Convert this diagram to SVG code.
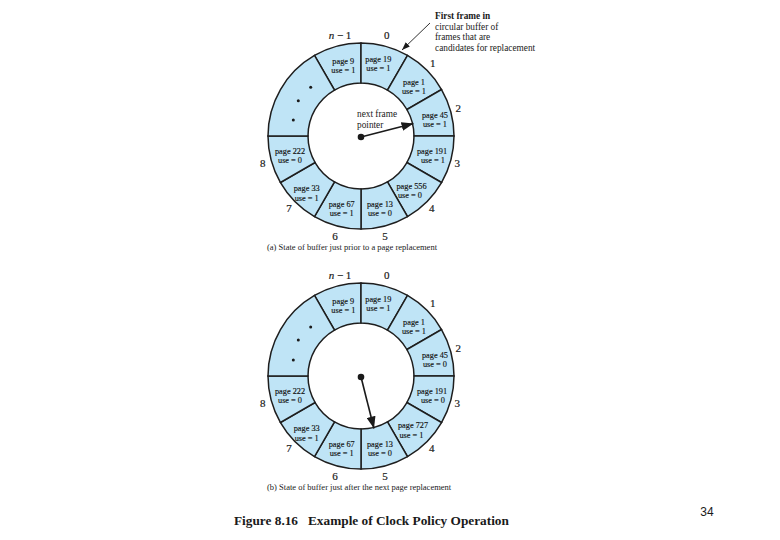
<svg xmlns="http://www.w3.org/2000/svg" xmlns:xlink="http://www.w3.org/1999/xlink" width="780" height="540" viewBox="0 0 780 540">
<style>
.seg{fill:#bfe4f6;stroke:#1e1e1e;stroke-width:1.5;stroke-linejoin:miter}
.pg{font-family:"Liberation Serif","Times New Roman",serif;font-size:8.3px;fill:#111;text-anchor:middle;stroke:#111;stroke-width:0.15}
.num{font-family:"Liberation Serif","Times New Roman",serif;font-size:11px;fill:#1a1a1a;text-anchor:middle;stroke:#1a1a1a;stroke-width:0.2}
.note{font-family:"Liberation Serif","Times New Roman",serif;font-size:9.3px;fill:#1a1a1a}
.cap{font-family:"Liberation Serif","Times New Roman",serif;font-size:8.5px;fill:#1a1a1a}
.title{font-family:"Liberation Serif","Times New Roman",serif;font-size:13.3px;font-weight:bold;fill:#1a1a1a}
.ptr{stroke:#1a1a1a;stroke-width:1.6;fill:none}
.thin{stroke:#1a1a1a;stroke-width:0.9;fill:none}
.dot{fill:#1a1a1a}
</style>
<defs>
<path id="s0" d="M46.5,-80.54 A93,93 0 0 0 0,-93 L0,-53 A53,53 0 0 1 26.5,-45.9 Z"/>
<path id="s1" d="M80.54,-46.5 A93,93 0 0 0 46.5,-80.54 L26.5,-45.9 A53,53 0 0 1 45.9,-26.5 Z"/>
<path id="s2" d="M93,0 A93,93 0 0 0 80.54,-46.5 L45.9,-26.5 A53,53 0 0 1 53,0 Z"/>
<path id="s3" d="M80.54,46.5 A93,93 0 0 0 93,0 L53,0 A53,53 0 0 1 45.9,26.5 Z"/>
<path id="s4" d="M46.5,80.54 A93,93 0 0 0 80.54,46.5 L45.9,26.5 A53,53 0 0 1 26.5,45.9 Z"/>
<path id="s5" d="M0,93 A93,93 0 0 0 46.5,80.54 L26.5,45.9 A53,53 0 0 1 0,53 Z"/>
<path id="s6" d="M-46.5,80.54 A93,93 0 0 0 0,93 L0,53 A53,53 0 0 1 -26.5,45.9 Z"/>
<path id="s7" d="M-80.54,46.5 A93,93 0 0 0 -46.5,80.54 L-26.5,45.9 A53,53 0 0 1 -45.9,26.5 Z"/>
<path id="s8" d="M-93,0 A93,93 0 0 0 -80.54,46.5 L-45.9,26.5 A53,53 0 0 1 -53,0 Z"/>
<path id="sd" d="M-46.5,-80.54 A93,93 0 0 0 -93,0 L-53,0 A53,53 0 0 1 -26.5,-45.9 Z"/>
<path id="sn" d="M0,-93 A93,93 0 0 0 -46.5,-80.54 L-26.5,-45.9 A53,53 0 0 1 0,-53 Z"/>
<marker id="ah" viewBox="0 0 12 9" refX="12" refY="4.5" markerWidth="12" markerHeight="9" orient="auto" markerUnits="userSpaceOnUse"><path d="M0,0 L12,4.5 L0,9 Z" fill="#1a1a1a"/></marker>
<marker id="ahs" viewBox="0 0 8 6" refX="8" refY="3" markerWidth="8" markerHeight="6" orient="auto" markerUnits="userSpaceOnUse"><path d="M0,0 L8,3 L0,6 Z" fill="#1a1a1a"/></marker>
</defs>
<rect width="780" height="540" fill="#ffffff"/>

<!-- Ring (a) -->
<g id="ringA" transform="translate(361,136)">
<g id="a-frame-n1"><use xlink:href="#sn" class="seg"/><text class="pg" x="-17.7" y="-72.2">page 9</text><text class="pg" x="-17.7" y="-63">use = 1</text><text class="num" x="-21" y="-97"><tspan font-style="italic">n</tspan> − 1</text></g>
<g id="a-frame0"><use xlink:href="#s0" class="seg"/><text class="pg" x="17.3" y="-74.5">page 19</text><text class="pg" x="17.3" y="-65.3">use = 1</text><text class="num" x="25.7" y="-97">0</text></g>
<g id="a-frame1"><use xlink:href="#s1" class="seg"/><text class="pg" x="53" y="-51.5">page 1</text><text class="pg" x="53" y="-42.3">use = 1</text><text class="num" x="71.7" y="-69.3">1</text></g>
<g id="a-frame2"><use xlink:href="#s2" class="seg"/><text class="pg" x="74" y="-17.8">page 45</text><text class="pg" x="74" y="-8.6">use = 1</text><text class="num" x="97.3" y="-24.3">2</text></g>
<g id="a-frame3"><use xlink:href="#s3" class="seg"/><text class="pg" x="71" y="17.9">page 191</text><text class="pg" x="72" y="27.1">use = 1</text><text class="num" x="96.3" y="31.3">3</text></g>
<g id="a-frame4"><use xlink:href="#s4" class="seg"/><text class="pg" x="50.5" y="52.9">page 556</text><text class="pg" x="49" y="62.1">use = 0</text><text class="num" x="70.7" y="76">4</text></g>
<g id="a-frame5"><use xlink:href="#s5" class="seg"/><text class="pg" x="19" y="71.2">page 13</text><text class="pg" x="19" y="80.4">use = 0</text><text class="num" x="24" y="104">5</text></g>
<g id="a-frame6"><use xlink:href="#s6" class="seg"/><text class="pg" x="-19.3" y="71.2">page 67</text><text class="pg" x="-19.3" y="80.4">use = 1</text><text class="num" x="-26" y="104">6</text></g>
<g id="a-frame7"><use xlink:href="#s7" class="seg"/><text class="pg" x="-54.3" y="55.4">page 33</text><text class="pg" x="-54.3" y="64.6">use = 1</text><text class="num" x="-72" y="76">7</text></g>
<g id="a-frame8"><use xlink:href="#s8" class="seg"/><text class="pg" x="-71" y="17.9">page 222</text><text class="pg" x="-71" y="27.1">use = 0</text><text class="num" x="-98.3" y="31.3">8</text></g>
<g id="a-gap"><use xlink:href="#sd" class="seg"/><circle class="dot" cx="-50.3" cy="-48.7" r="1.5"/><circle class="dot" cx="-62.7" cy="-35.3" r="1.5"/><circle class="dot" cx="-67.7" cy="-16" r="1.5"/></g>
</g>

<!-- Ring (b) -->
<g id="ringB" transform="translate(361,376)">
<g id="b-frame-n1"><use xlink:href="#sn" class="seg"/><text class="pg" x="-17.7" y="-72.2">page 9</text><text class="pg" x="-17.7" y="-63">use = 1</text><text class="num" x="-21" y="-97"><tspan font-style="italic">n</tspan> − 1</text></g>
<g id="b-frame0"><use xlink:href="#s0" class="seg"/><text class="pg" x="17.3" y="-74.5">page 19</text><text class="pg" x="17.3" y="-65.3">use = 1</text><text class="num" x="25.7" y="-97">0</text></g>
<g id="b-frame1"><use xlink:href="#s1" class="seg"/><text class="pg" x="53" y="-51.5">page 1</text><text class="pg" x="53" y="-42.3">use = 1</text><text class="num" x="71.7" y="-69.3">1</text></g>
<g id="b-frame2"><use xlink:href="#s2" class="seg"/><text class="pg" x="74" y="-17.8">page 45</text><text class="pg" x="74" y="-8.6">use = 0</text><text class="num" x="97.3" y="-24.3">2</text></g>
<g id="b-frame3"><use xlink:href="#s3" class="seg"/><text class="pg" x="71" y="17.9">page 191</text><text class="pg" x="72" y="27.1">use = 0</text><text class="num" x="96.3" y="31.3">3</text></g>
<g id="b-frame4"><use xlink:href="#s4" class="seg"/><text class="pg" x="52" y="52.4">page 727</text><text class="pg" x="50.5" y="61.6">use = 1</text><text class="num" x="70.7" y="76">4</text></g>
<g id="b-frame5"><use xlink:href="#s5" class="seg"/><text class="pg" x="19" y="71.2">page 13</text><text class="pg" x="19" y="80.4">use = 0</text><text class="num" x="24" y="104">5</text></g>
<g id="b-frame6"><use xlink:href="#s6" class="seg"/><text class="pg" x="-19.3" y="71.2">page 67</text><text class="pg" x="-19.3" y="80.4">use = 1</text><text class="num" x="-26" y="104">6</text></g>
<g id="b-frame7"><use xlink:href="#s7" class="seg"/><text class="pg" x="-54.3" y="55.4">page 33</text><text class="pg" x="-54.3" y="64.6">use = 1</text><text class="num" x="-72" y="76">7</text></g>
<g id="b-frame8"><use xlink:href="#s8" class="seg"/><text class="pg" x="-71" y="17.9">page 222</text><text class="pg" x="-71" y="27.1">use = 0</text><text class="num" x="-98.3" y="31.3">8</text></g>
<g id="b-gap"><use xlink:href="#sd" class="seg"/><circle class="dot" cx="-50.3" cy="-49" r="1.5"/><circle class="dot" cx="-62.7" cy="-36" r="1.5"/><circle class="dot" cx="-67.7" cy="-16" r="1.5"/></g>
</g>

<!-- Connectors -->
<g id="connectors">
<line class="thin" x1="430" y1="23" x2="402" y2="50" marker-end="url(#ahs)"/>
<line class="ptr" x1="361" y1="137" x2="413.5" y2="123.5" marker-end="url(#ah)"/>
<circle class="dot" cx="361" cy="137" r="3.3"/>
<line class="ptr" x1="361" y1="377" x2="374" y2="428.5" marker-end="url(#ah)"/>
<circle class="dot" cx="361" cy="377" r="3.3"/>
</g>

<!-- Annotations and captions -->
<g id="labels">
<text class="note" x="435" y="19" font-weight="bold">First frame in</text>
<text class="note" x="435" y="29.5">circular buffer of</text>
<text class="note" x="435" y="40">frames that are</text>
<text class="note" x="435" y="50.5">candidates for replacement</text>
<text class="note" x="357" y="117">next frame</text>
<text class="note" x="357" y="127.5">pointer</text>
<text class="cap" x="267" y="250">(a) State of buffer just prior to a page replacement</text>
<text class="cap" x="267" y="489.5">(b) State of buffer just after the next page replacement</text>
<text class="title" x="234" y="524.5" xml:space="preserve">Figure 8.16   Example of Clock Policy Operation</text>
<text x="707" y="515.5" font-family="'Liberation Sans',Arial,sans-serif" font-size="12" fill="#1a1a1a" text-anchor="middle">34</text>
</g>
</svg>
